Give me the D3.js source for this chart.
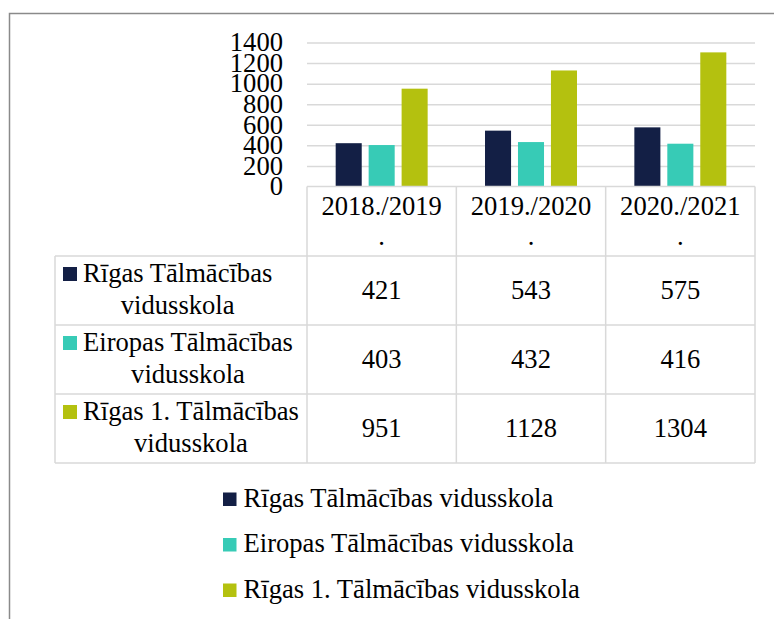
<!DOCTYPE html>
<html>
<head>
<meta charset="utf-8">
<script src="https://cdn.jsdelivr.net/npm/d3@7"></script>
<style>
  body { margin: 0; background: #fff; }
  svg text { font-family: "Liberation Serif", "Times New Roman", Times, serif !important; fill: #000; }
</style>
</head>
<body>
<div id="chart"></div>
<script>
let years = ["2018./2019.", "2019./2020.", "2020./2021."];
let series = ["Rīgas Tālmācības vidusskola", "Eiropas Tālmācības vidusskola", "Rīgas 1. Tālmācības vidusskola"];
let rigas = [421, 543, 575];
let eiropas = [403, 432, 416];
let rigas1 = [951, 1128, 1304];
let yTicks = [0, 200, 400, 600, 800, 1000, 1200, 1400];
let colors = ["#131f45", "#37cbb6", "#b4c10f"];

let values = [rigas, eiropas, rigas1];
let fontSize = 26.6;
let serif = "'Liberation Serif', 'Times New Roman', Times, serif";

let svg = d3.select("#chart")
  .append("svg")
  .attr("width", 774)
  .attr("height", 619)
  .attr("font-family", serif);

// outer frame (runs off the right and bottom edge)
svg.append("rect")
  .attr("x", 9.5)
  .attr("y", 13.5)
  .attr("width", 900)
  .attr("height", 800)
  .attr("fill", "none")
  .attr("stroke", "#8a8a8a")
  .attr("stroke-width", 1.5);

let plotLeft = 307, plotRight = 755, plotTop = 42.5, plotBottom = 186.5;
let rowH = 69, labelLeft = 55;

let x0 = d3.scaleBand()
  .domain(years)
  .range([plotLeft, plotRight]);

let x1 = d3.scaleBand()
  .domain(series)
  .range([0, x0.bandwidth()])
  .paddingInner(0.21)
  .paddingOuter(0.87);

let y = d3.scaleLinear()
  .domain([0, 1400])
  .range([plotBottom, plotTop]);

// gridlines
svg.append("g")
  .attr("transform", "translate(" + plotLeft + ",0)")
  .call(d3.axisLeft(y).tickValues(yTicks.slice(1)).tickSize(-(plotRight - plotLeft)).tickFormat(""))
  .call(g => g.select(".domain").remove())
  .selectAll("line")
  .attr("stroke", "#d9d9d9")
  .attr("stroke-width", 1.5);

// y axis labels
svg.append("g")
  .attr("transform", "translate(" + plotLeft + ",0)")
  .call(d3.axisLeft(y).tickValues(yTicks).tickSize(0).tickPadding(24).tickFormat(d3.format("d")))
  .call(g => g.select(".domain").remove())
  .attr("font-family", serif)
  .attr("font-size", fontSize)
  .selectAll("text")
  .style("font-size", fontSize + "px")
  .attr("dy", "0.31em");

// bars
let groups = svg.append("g")
  .selectAll("g")
  .data(years)
  .join("g")
  .attr("transform", d => "translate(" + x0(d) + ",0)");

groups.selectAll("rect")
  .data((d, i) => series.map((s, j) => ({ s: s, v: values[j][i], c: colors[j] })))
  .join("rect")
  .attr("x", d => x1(d.s))
  .attr("y", d => y(d.v))
  .attr("width", x1.bandwidth())
  .attr("height", d => y(0) - y(d.v))
  .attr("fill", d => d.c);

// data table
let tableTop = plotBottom;
let headerBottom = tableTop + 69.5;
let tableBottom = headerBottom + rowH * 3;
let border = svg.append("g")
  .attr("stroke", "#d9d9d9")
  .attr("stroke-width", 1.5)
  .attr("fill", "none");

border.append("line").attr("x1", plotLeft).attr("x2", plotRight).attr("y1", tableTop).attr("y2", tableTop);
series.forEach((s, j) => {
  let yy = headerBottom + rowH * j;
  border.append("line").attr("x1", labelLeft).attr("x2", plotRight).attr("y1", yy).attr("y2", yy);
});
border.append("line").attr("x1", labelLeft).attr("x2", plotRight).attr("y1", tableBottom).attr("y2", tableBottom);
border.append("line").attr("x1", labelLeft).attr("x2", labelLeft).attr("y1", headerBottom).attr("y2", tableBottom);
years.forEach(yr => {
  border.append("line").attr("x1", x0(yr)).attr("x2", x0(yr)).attr("y1", tableTop).attr("y2", tableBottom);
});
border.append("line").attr("x1", plotRight).attr("x2", plotRight).attr("y1", tableTop).attr("y2", tableBottom);

// header cells: year wraps before the last dot
years.forEach(yr => {
  let cx = x0(yr) + x0.bandwidth() / 2;
  let t = svg.append("text")
    .attr("text-anchor", "middle")
    .style("font-size", fontSize + "px");
  t.append("tspan").attr("x", cx).attr("y", tableTop + 28.5).text(yr.slice(0, -1));
  t.append("tspan").attr("x", cx).attr("y", tableTop + 58.5).text(".");
});

// row labels with colour keys
let wrapLines = [
  ["Rīgas Tālmācības", "vidusskola"],
  ["Eiropas Tālmācības", "vidusskola"],
  ["Rīgas 1. Tālmācības", "vidusskola"]
];
series.forEach((s, j) => {
  let cy = headerBottom + rowH * j + rowH / 2;
  let textLeft = 83;
  let probe = svg.append("text").style("font-size", fontSize + "px").text(wrapLines[j][0]);
  let w = probe.node().getComputedTextLength();
  probe.remove();
  let cx = textLeft + w / 2;
  svg.append("rect")
    .attr("x", 63)
    .attr("y", cy - 23.5)
    .attr("width", 14)
    .attr("height", 14)
    .attr("fill", colors[j]);
  let t = svg.append("text")
    .attr("text-anchor", "middle")
    .style("font-size", fontSize + "px");
  t.append("tspan").attr("x", cx).attr("y", cy - 8.5).text(wrapLines[j][0]);
  t.append("tspan").attr("x", cx).attr("y", cy + 23).text(wrapLines[j][1]);

  years.forEach((yr, i) => {
    svg.append("text")
      .attr("x", x0(yr) + x0.bandwidth() / 2)
      .attr("y", cy + 8.5)
      .attr("text-anchor", "middle")
      .style("font-size", fontSize + "px")
      .text(values[j][i]);
  });
});

// legend
let legend = svg.append("g")
  .selectAll("g")
  .data(series)
  .join("g")
  .attr("transform", (d, i) => "translate(223," + (506.5 + i * 45.5) + ")");

legend.append("rect")
  .attr("x", 0)
  .attr("y", -14)
  .attr("width", 13.5)
  .attr("height", 13.5)
  .attr("fill", (d, i) => colors[i]);

legend.append("text")
  .attr("x", 20.5)
  .attr("y", 0)
  .style("font-size", fontSize + "px")
  .text(d => d);
</script>
</body>
</html>
